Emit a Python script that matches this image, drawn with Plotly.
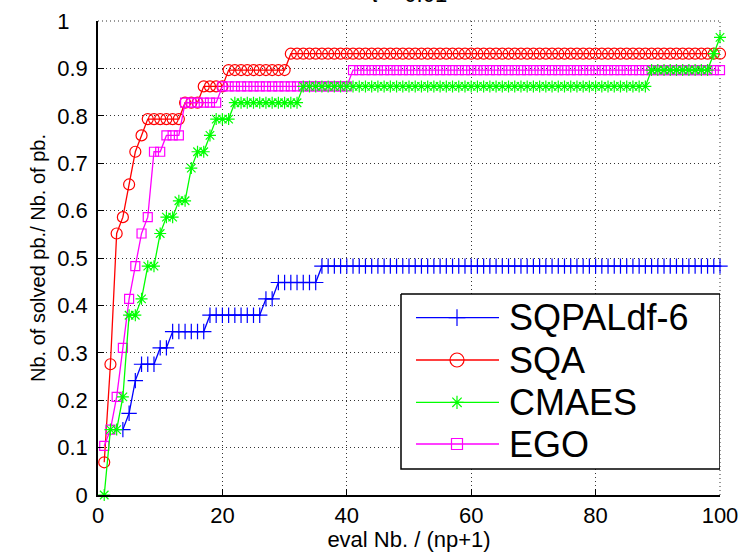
import plotly.graph_objects as go

FONT = "Liberation Sans, Arial, sans-serif"

# evaluation budget, in units of (np+1)
evals = list(range(1, 101))
n_problems = 29

# number of problems solved (out of 29) at each budget
sqpal_solved = [
    None, None, None, 4, 5, 7, 8, 8, 8, 9,
    9, 10, 10, 10, 10, 10, 10, 11, 11, 11,
    11, 11, 11, 11, 11, 11, 12, 12, 13, 13,
    13, 13, 13, 13, 13, 14, 14, 14, 14, 14,
    14, 14, 14, 14, 14, 14, 14, 14, 14, 14,
    14, 14, 14, 14, 14, 14, 14, 14, 14, 14,
    14, 14, 14, 14, 14, 14, 14, 14, 14, 14,
    14, 14, 14, 14, 14, 14, 14, 14, 14, 14,
    14, 14, 14, 14, 14, 14, 14, 14, 14, 14,
    14, 14, 14, 14, 14, 14, 14, 14, 14, 14,
]
sqa_solved = [
    2, 8, 16, 17, 19, 21, 22, 23, 23, 23,
    23, 23, 23, 24, 24, 24, 25, 25, 25, 25,
    26, 26, 26, 26, 26, 26, 26, 26, 26, 26,
    27, 27, 27, 27, 27, 27, 27, 27, 27, 27,
    27, 27, 27, 27, 27, 27, 27, 27, 27, 27,
    27, 27, 27, 27, 27, 27, 27, 27, 27, 27,
    27, 27, 27, 27, 27, 27, 27, 27, 27, 27,
    27, 27, 27, 27, 27, 27, 27, 27, 27, 27,
    27, 27, 27, 27, 27, 27, 27, 27, 27, 27,
    27, 27, 27, 27, 27, 27, 27, 27, 27, 27,
]
cmaes_solved = [
    0, 4, 4, 6, 11, 11, 12, 14, 14, 16,
    17, 17, 18, 18, 20, 21, 21, 22, 23, 23,
    23, 24, 24, 24, 24, 24, 24, 24, 24, 24,
    24, 24, 25, 25, 25, 25, 25, 25, 25, 25,
    25, 25, 25, 25, 25, 25, 25, 25, 25, 25,
    25, 25, 25, 25, 25, 25, 25, 25, 25, 25,
    25, 25, 25, 25, 25, 25, 25, 25, 25, 25,
    25, 25, 25, 25, 25, 25, 25, 25, 25, 25,
    25, 25, 25, 25, 25, 25, 25, 25, 26, 26,
    26, 26, 26, 26, 26, 26, 26, 26, 27, 28,
]
ego_solved = [
    3, 4, 6, 9, 12, 14, 16, 17, 21, 21,
    22, 22, 22, 24, 24, 24, 24, 24, 24, 25,
    25, 25, 25, 25, 25, 25, 25, 25, 25, 25,
    25, 25, 25, 25, 25, 25, 25, 25, 25, 25,
    26, 26, 26, 26, 26, 26, 26, 26, 26, 26,
    26, 26, 26, 26, 26, 26, 26, 26, 26, 26,
    26, 26, 26, 26, 26, 26, 26, 26, 26, 26,
    26, 26, 26, 26, 26, 26, 26, 26, 26, 26,
    26, 26, 26, 26, 26, 26, 26, 26, 26, 26,
    26, 26, 26, 26, 26, 26, 26, 26, 26, 26,
]

# stray point near the top border
stray_x = [13.3]
stray_y = [1.004]

x_ticks = [0, 20, 40, 60, 80, 100]
y_ticks = [0, 0.1, 0.2, 0.3, 0.4, 0.5, 0.6, 0.7, 0.8, 0.9, 1]
y_ticktext = ["0", "0.1", "0.2", "0.3", "0.4", "0.5", "0.6", "0.7", "0.8", "0.9",
              "1\u00a0\u00a0\u00a0"]

legend_names = ["SQPALdf-6", "SQA", "CMAES", "EGO"]

styles = {
    "SQPALdf-6": dict(solved=sqpal_solved, color="#0000ff", symbol="cross-thin-open", size=11, lsize=12),
    "SQA": dict(solved=sqa_solved, color="#ff0000", symbol="circle-open", size=11, lsize=14),
    "CMAES": dict(solved=cmaes_solved, color="#00ff00", symbol="asterisk-open", size=10, lsize=11),
    "EGO": dict(solved=ego_solved, color="#ff00ff", symbol="square-open", size=9, lsize=11),
}
draw_order = ["SQPALdf-6", "SQA", "EGO", "CMAES"]

fig = go.Figure()

for name in draw_order:
    st = styles[name]
    ratio = [None if c is None else c / n_problems for c in st["solved"]]
    fig.add_trace(go.Scatter(
        x=evals, y=ratio, mode="lines+markers", name=name, showlegend=False,
        cliponaxis=False,
        line=dict(color=st["color"], width=1.3),
        marker=dict(symbol=st["symbol"], size=st["size"], color=st["color"],
                    line=dict(color=st["color"], width=1.2)),
    ))

fig.add_trace(go.Scatter(
    x=stray_x, y=stray_y, mode="markers", showlegend=False, cliponaxis=False,
    marker=dict(symbol="square", size=4, color="black"),
))

# boxed legend drawn in a pixel-unit overlay axis
L_X0, L_X1, L_Y0, L_Y1 = 401, 720, 294, 469
row_y = [317.7, 360, 402.3, 444]
fig.add_trace(go.Scatter(
    x=[L_X0, L_X1, L_X1, L_X0, L_X0], y=[L_Y0, L_Y0, L_Y1, L_Y1, L_Y0],
    xaxis="x2", yaxis="y2", mode="lines", fill="toself", fillcolor="white",
    line=dict(color="black", width=1.5), showlegend=False, hoverinfo="skip",
))
for name, ry in zip(legend_names, row_y):
    st = styles[name]
    fig.add_trace(go.Scatter(
        x=[416, 499], y=[ry, ry], xaxis="x2", yaxis="y2", mode="lines",
        line=dict(color=st["color"], width=1.3), showlegend=False, hoverinfo="skip",
    ))
    fig.add_trace(go.Scatter(
        x=[457], y=[ry], xaxis="x2", yaxis="y2", mode="markers",
        marker=dict(symbol=st["symbol"], size=st["lsize"], color=st["color"],
                    line=dict(color=st["color"], width=1.2)),
        showlegend=False, hoverinfo="skip",
    ))
    fig.add_annotation(
        x=507, y=ry, xref="x2", yref="y2", text=name, showarrow=False,
        xanchor="left", yanchor="middle",
        font=dict(family=FONT, size=36, color="black"),
    )

grid_style = dict(showgrid=True, gridcolor="#333333", gridwidth=1, griddash="1px,3px")

fig.update_layout(
    template="none",
    width=742, height=552,
    margin=dict(l=98, r=22, t=21, b=57),
    paper_bgcolor="white", plot_bgcolor="white",
    font=dict(family=FONT, color="black"),
    xaxis=dict(
        range=[0, 100], tickvals=x_ticks, ticks="inside", ticklen=6,
        tickcolor="black", tickwidth=1, showline=True, linecolor="black",
        linewidth=1.5, zeroline=False, automargin=False, tickfont=dict(size=22),
        title=dict(text="eval Nb. / (np+1)", font=dict(size=22), standoff=4),
        **grid_style,
    ),
    yaxis=dict(
        range=[0, 1], tickvals=y_ticks, ticktext=y_ticktext, ticks="inside",
        ticklen=6, tickcolor="black", tickwidth=1, showline=True,
        linecolor="black", linewidth=1.5, zeroline=False, automargin=False,
        tickfont=dict(size=22), ticklabelstandoff=4,
        title=dict(text="Nb. of solved pb./ Nb. of pb.", font=dict(size=20), standoff=6),
        **grid_style,
    ),
    xaxis2=dict(overlaying="x", range=[98, 720], visible=False, showgrid=False,
                automargin=False),
    yaxis2=dict(overlaying="y", range=[495, 21], visible=False, showgrid=False,
                automargin=False),
    showlegend=False,
)

# dotted frame on the top and right edges
fig.add_shape(type="line", xref="paper", yref="paper", x0=0, x1=1, y0=1, y1=1,
              line=dict(color="#333333", width=1, dash="1px,3px"), layer="below")
fig.add_shape(type="line", xref="paper", yref="paper", x0=1, x1=1, y0=0, y1=1,
              line=dict(color="#333333", width=1, dash="1px,3px"), layer="below")

fig.add_annotation(
    x=0.5, y=1.056, xref="paper", yref="paper", text="<i>τ</i> = 0.01",
    showarrow=False, xanchor="center", yanchor="middle",
    font=dict(family=FONT, size=22, color="black"),
)

fig.write_html("out.html")
